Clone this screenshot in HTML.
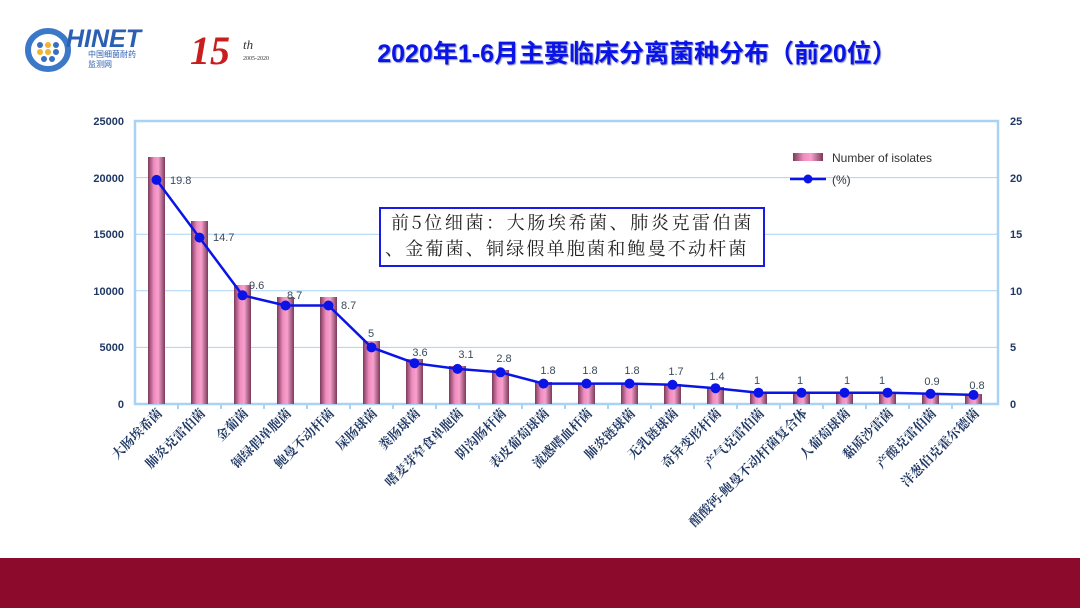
<!DOCTYPE html>
<html><head><meta charset="utf-8"><style>
body{margin:0;width:1080px;height:608px;overflow:hidden;background:#fff;font-family:"Liberation Sans","Noto Sans CJK SC",sans-serif}
</style></head><body>
<svg width="1080" height="608" viewBox="0 0 1080 608" xmlns="http://www.w3.org/2000/svg">
<defs>
<linearGradient id="bg" x1="0" x2="1" y1="0" y2="0">
<stop offset="0" stop-color="#7a3a5a"/><stop offset="0.35" stop-color="#f08cc0"/><stop offset="0.6" stop-color="#f7a0cc"/><stop offset="1" stop-color="#7a3a5a"/>
</linearGradient>
</defs>
<!-- logo -->
<ellipse cx="48" cy="50" rx="20" ry="19" fill="none" stroke="#3c78c8" stroke-width="6"/>
<g fill="#3a6fc0"><circle cx="40" cy="45" r="3"/><circle cx="48" cy="45" r="3" fill="#f2b233"/><circle cx="56" cy="45" r="3"/><circle cx="40" cy="52" r="3" fill="#f2b233"/><circle cx="48" cy="52" r="3" fill="#f2b233"/><circle cx="56" cy="52" r="3"/><circle cx="44" cy="59" r="3"/><circle cx="52" cy="59" r="3"/></g>
<text x="66" y="47" font-size="25" font-weight="bold" font-style="italic" fill="#2b5fb3">HINET</text>
<text x="88" y="57" font-size="8" fill="#2b5fb3">中国细菌耐药</text>
<text x="88" y="67" font-size="8" fill="#2b5fb3">监测网</text>
<text x="190" y="64" font-size="40" font-weight="bold" font-style="italic" fill="#c81e1e" font-family="Liberation Serif,serif">15</text>
<text x="243" y="49" font-size="13" font-style="italic" fill="#333" font-family="Liberation Serif,serif">th</text>
<text x="243" y="60" font-size="6" fill="#333" font-family="Liberation Serif,serif">2005-2020</text>
<text x="637" y="62" font-size="25" font-weight="bold" fill="#0a14e6" text-anchor="middle" style="text-shadow:1px 1px 1px #8890c0">2020年1-6月主要临床分离菌种分布（前20位）</text>
<!-- grid -->
<g stroke="#a9d2f5" stroke-width="1">
<line x1="135" x2="998" y1="177.6" y2="177.6"/><line x1="135" x2="998" y1="234.2" y2="234.2"/><line x1="135" x2="998" y1="290.8" y2="290.8"/><line x1="135" x2="998" y1="347.4" y2="347.4"/>
</g>
<rect x="135" y="121" width="863" height="283" fill="none" stroke="#a9d2f5" stroke-width="2.5"/>
<g stroke="#a9d2f5" stroke-width="2">
<line x1="178" x2="178" y1="404" y2="409"/><line x1="221" x2="221" y1="404" y2="409"/><line x1="264" x2="264" y1="404" y2="409"/><line x1="307" x2="307" y1="404" y2="409"/><line x1="350" x2="350" y1="404" y2="409"/><line x1="393" x2="393" y1="404" y2="409"/><line x1="436" x2="436" y1="404" y2="409"/><line x1="479" x2="479" y1="404" y2="409"/><line x1="522" x2="522" y1="404" y2="409"/><line x1="565" x2="565" y1="404" y2="409"/><line x1="608" x2="608" y1="404" y2="409"/><line x1="651" x2="651" y1="404" y2="409"/><line x1="694" x2="694" y1="404" y2="409"/><line x1="737" x2="737" y1="404" y2="409"/><line x1="780" x2="780" y1="404" y2="409"/><line x1="823" x2="823" y1="404" y2="409"/><line x1="866" x2="866" y1="404" y2="409"/><line x1="909" x2="909" y1="404" y2="409"/><line x1="952" x2="952" y1="404" y2="409"/>
</g>
<!-- axis labels -->
<g font-size="11" font-weight="bold" fill="#1f3864" text-anchor="end">
<text x="124" y="125">25000</text><text x="124" y="182">20000</text><text x="124" y="238">15000</text><text x="124" y="295">10000</text><text x="124" y="351">5000</text><text x="124" y="408">0</text>
</g>
<g font-size="11" font-weight="bold" fill="#1f3864">
<text x="1010" y="125">25</text><text x="1010" y="182">20</text><text x="1010" y="238">15</text><text x="1010" y="295">10</text><text x="1010" y="351">5</text><text x="1010" y="408">0</text>
</g>
<!-- bars -->
<g fill="url(#bg)">
<rect x="148" y="157" width="17" height="247"/>
<rect x="191" y="221" width="17" height="183"/>
<rect x="234" y="285" width="17" height="119"/>
<rect x="277" y="297" width="17" height="107"/>
<rect x="320" y="297" width="17" height="107"/>
<rect x="363" y="341" width="17" height="63"/>
<rect x="406" y="359" width="17" height="45"/>
<rect x="449" y="366" width="17" height="38"/>
<rect x="492" y="370" width="17" height="34"/>
<rect x="535" y="382" width="17" height="22"/>
<rect x="578" y="383" width="17" height="21"/>
<rect x="621" y="383" width="17" height="21"/>
<rect x="664" y="384" width="17" height="20"/>
<rect x="707" y="387" width="17" height="17"/>
<rect x="750" y="392" width="17" height="12"/>
<rect x="793" y="392" width="17" height="12"/>
<rect x="836" y="392" width="17" height="12"/>
<rect x="879" y="392" width="17" height="12"/>
<rect x="922" y="394" width="17" height="10"/>
<rect x="965" y="394" width="17" height="10"/>
</g>
<!-- line -->
<polyline fill="none" stroke="#0a14e6" stroke-width="2.5" points="156.5,179.9 199.5,237.6 242.5,295.3 285.5,305.5 328.5,305.5 371.5,347.4 414.5,363.2 457.5,368.9 500.5,372.3 543.5,383.6 586.5,383.6 629.5,383.6 672.5,384.8 715.5,388.2 758.5,392.7 801.5,392.7 844.5,392.7 887.5,392.7 930.5,393.8 973.5,394.9"/>
<g fill="#0a14e6">
<circle cx="156.5" cy="179.9" r="5"/><circle cx="199.5" cy="237.6" r="5"/><circle cx="242.5" cy="295.3" r="5"/><circle cx="285.5" cy="305.5" r="5"/><circle cx="328.5" cy="305.5" r="5"/><circle cx="371.5" cy="347.4" r="5"/><circle cx="414.5" cy="363.2" r="5"/><circle cx="457.5" cy="368.9" r="5"/><circle cx="500.5" cy="372.3" r="5"/><circle cx="543.5" cy="383.6" r="5"/><circle cx="586.5" cy="383.6" r="5"/><circle cx="629.5" cy="383.6" r="5"/><circle cx="672.5" cy="384.8" r="5"/><circle cx="715.5" cy="388.2" r="5"/><circle cx="758.5" cy="392.7" r="5"/><circle cx="801.5" cy="392.7" r="5"/><circle cx="844.5" cy="392.7" r="5"/><circle cx="887.5" cy="392.7" r="5"/><circle cx="930.5" cy="393.8" r="5"/><circle cx="973.5" cy="394.9" r="5"/>
</g>
<g font-size="11" fill="#3a4a5a">
<text x="170" y="184">19.8</text><text x="213" y="241">14.7</text><text x="249" y="289">9.6</text><text x="287" y="299">8.7</text><text x="341" y="309">8.7</text>
<text x="371" y="337" text-anchor="middle">5</text><text x="420" y="356" text-anchor="middle">3.6</text><text x="466" y="358" text-anchor="middle">3.1</text><text x="504" y="362" text-anchor="middle">2.8</text><text x="548" y="374" text-anchor="middle">1.8</text><text x="590" y="374" text-anchor="middle">1.8</text><text x="632" y="374" text-anchor="middle">1.8</text><text x="676" y="375" text-anchor="middle">1.7</text><text x="717" y="380" text-anchor="middle">1.4</text><text x="757" y="384" text-anchor="middle">1</text><text x="800" y="384" text-anchor="middle">1</text><text x="847" y="384" text-anchor="middle">1</text><text x="882" y="384" text-anchor="middle">1</text><text x="932" y="385" text-anchor="middle">0.9</text><text x="977" y="389" text-anchor="middle">0.8</text>
</g>
<!-- category labels -->
<g font-size="13" font-weight="bold" fill="#1f3864" text-anchor="end" font-family="Liberation Serif,'Noto Serif CJK SC',serif">
<text transform="translate(163,414) rotate(-45)">大肠埃希菌</text>
<text transform="translate(206,414) rotate(-45)">肺炎克雷伯菌</text>
<text transform="translate(249,414) rotate(-45)">金葡菌</text>
<text transform="translate(292,414) rotate(-45)">铜绿假单胞菌</text>
<text transform="translate(335,414) rotate(-45)">鲍曼不动杆菌</text>
<text transform="translate(378,414) rotate(-45)">屎肠球菌</text>
<text transform="translate(421,414) rotate(-45)">粪肠球菌</text>
<text transform="translate(464,414) rotate(-45)">嗜麦芽窄食单胞菌</text>
<text transform="translate(507,414) rotate(-45)">阴沟肠杆菌</text>
<text transform="translate(550,414) rotate(-45)">表皮葡萄球菌</text>
<text transform="translate(593,414) rotate(-45)">流感嗜血杆菌</text>
<text transform="translate(636,414) rotate(-45)">肺炎链球菌</text>
<text transform="translate(679,414) rotate(-45)">无乳链球菌</text>
<text transform="translate(722,414) rotate(-45)">奇异变形杆菌</text>
<text transform="translate(765,414) rotate(-45)">产气克雷伯菌</text>
<text transform="translate(808,414) rotate(-45)">醋酸钙-鲍曼不动杆菌复合体</text>
<text transform="translate(851,414) rotate(-45)">人葡萄球菌</text>
<text transform="translate(894,414) rotate(-45)">黏质沙雷菌</text>
<text transform="translate(937,414) rotate(-45)">产酸克雷伯菌</text>
<text transform="translate(980,414) rotate(-45)">洋葱伯克霍尔德菌</text>
</g>
<!-- legend -->
<rect x="793" y="153" width="30" height="8" fill="url(#bg)"/>
<text x="832" y="162" font-size="12" fill="#333">Number of isolates</text>
<line x1="790" x2="826" y1="179" y2="179" stroke="#0a14e6" stroke-width="2.5"/>
<circle cx="808" cy="179" r="4.5" fill="#0a14e6"/>
<text x="832" y="184" font-size="12" fill="#333">(%)</text>
<!-- note box -->
<rect x="380" y="208" width="384" height="58" fill="#fff" stroke="#1a1ae6" stroke-width="2"/>
<text x="391" y="229" font-size="18" fill="#222" font-family="'Noto Serif CJK SC',serif" letter-spacing="2.6">前5位细菌：大肠埃希菌、肺炎克雷伯菌</text>
<text x="385" y="255" font-size="18" fill="#222" font-family="'Noto Serif CJK SC',serif" letter-spacing="2.2">、金葡菌、铜绿假单胞菌和鲍曼不动杆菌</text>
<!-- bottom band -->
<rect x="0" y="558" width="1080" height="50" fill="#8c0a2c"/>
</svg>
</body></html>
